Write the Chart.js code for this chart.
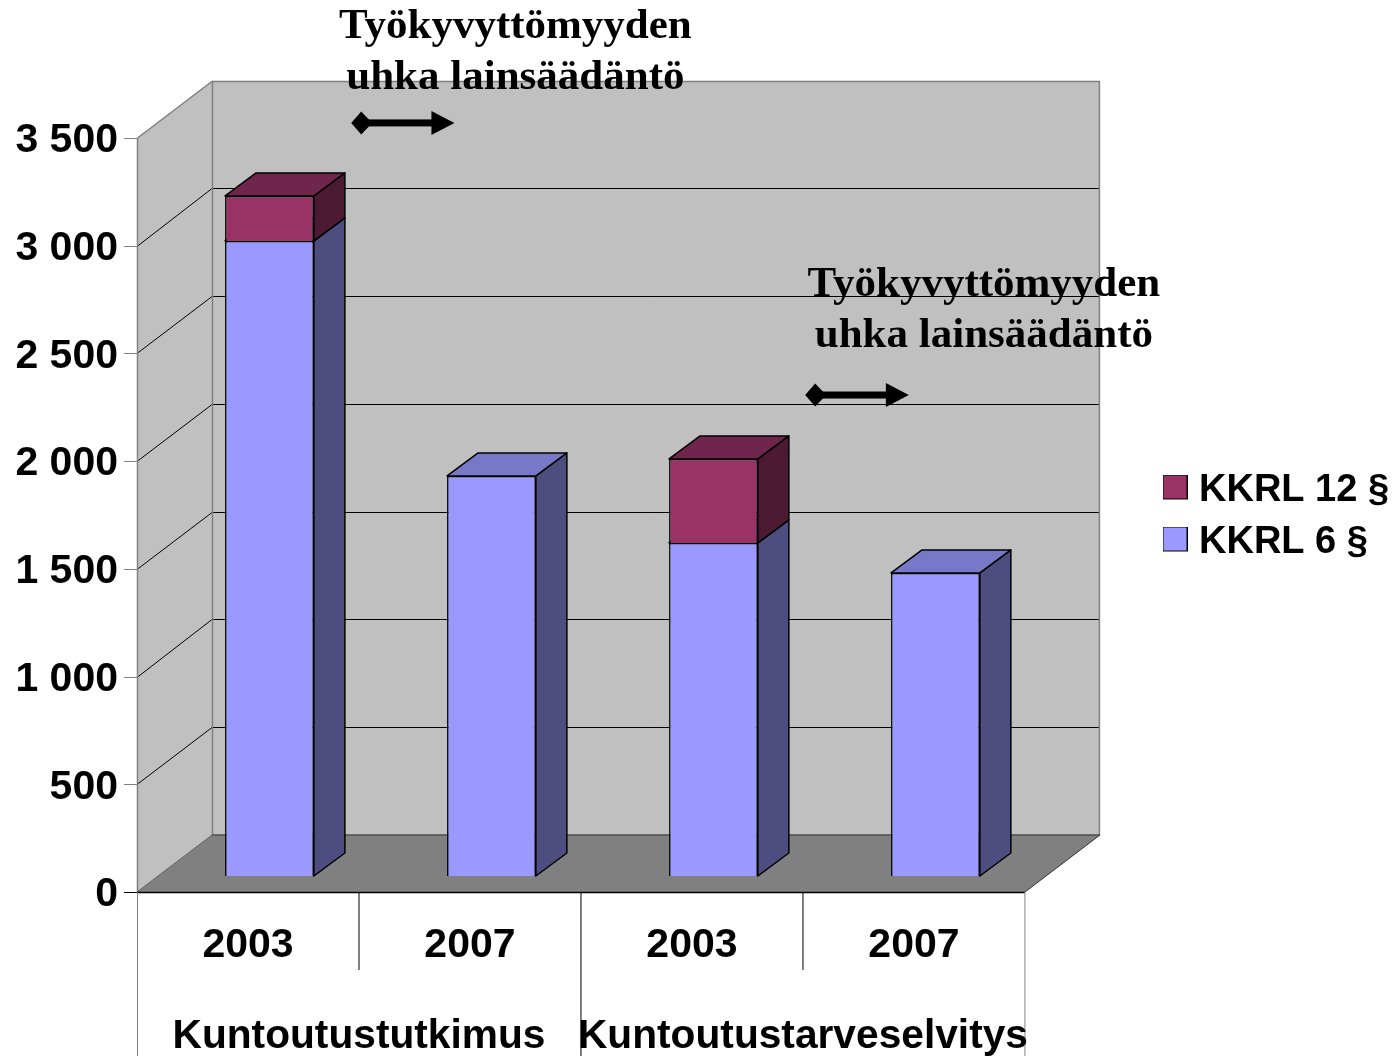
<!DOCTYPE html>
<html lang="fi">
<head>
<meta charset="utf-8">
<title>KKRL</title>
<script src="https://cdn.jsdelivr.net/npm/chart.js@4/dist/chart.umd.min.js"></script>
<style>html,body{margin:0;padding:0;background:#fff}canvas{display:block}</style>
</head>
<body>
<canvas id="c" width="1393" height="1056"></canvas>
<script>
const categories = ['2003', '2007', '2003', '2007'];
const groups = ['Kuntoutustutkimus', 'Kuntoutustarveselvitys'];
const kkrl6 = [2948, 1857, 1546, 1407];
const kkrl12 = [209, null, 390, null];
const seriesNames = ['KKRL 6 §', 'KKRL 12 §'];
const noteLines = ['Työkyvyttömyyden', 'uhka lainsäädäntö'];
// note positions, in axis units: category position and value
const noteX = [1.2045, 3.315];
const noteY1 = [4015, 2818];
const noteY2 = [3779, 2581];
const arrowFrom = [0.465, 2.510];
const arrowTo = [0.930, 2.977];
const arrowY = [3570, 2307];

const WALL = {dx: 75, dy: -57};
const BAR_OFFSET = {dx: 21.5, dy: -16};
const BAR_DEPTH = {dx: 31, dy: -23};
const colors = [
  {front: '#9999FF', side: '#4D4D80', top: '#7878C8'},
  {front: '#993366', side: '#4D1A33', top: '#70264C'}
];
const SANS = '"Liberation Sans", Arial, sans-serif';
const SERIF = '"Liberation Serif", "Times New Roman", serif';

function poly(ctx, pts, fill, stroke, lw) {
  ctx.beginPath();
  pts.forEach((p, i) => i ? ctx.lineTo(p[0], p[1]) : ctx.moveTo(p[0], p[1]));
  ctx.closePath();
  if (fill) { ctx.fillStyle = fill; ctx.fill(); }
  if (stroke) { ctx.strokeStyle = stroke; ctx.lineWidth = lw || 1; ctx.stroke(); }
}
function seg(ctx, x1, y1, x2, y2, color, lw) {
  ctx.beginPath(); ctx.moveTo(x1, y1); ctx.lineTo(x2, y2);
  ctx.strokeStyle = color; ctx.lineWidth = lw || 1; ctx.stroke();
}
function legendSwatch(color) {
  const cv = document.createElement('canvas');
  cv.width = 25; cv.height = 33;
  const g = cv.getContext('2d');
  g.fillStyle = color; g.fillRect(0, 0, 25, 25);
  g.strokeStyle = '#000'; g.lineWidth = 1; g.strokeRect(0.5, 0.5, 24, 24);
  return cv;
}

const box3d = {
  id: 'box3d',
  afterLayout(chart) {
    const l = chart.legend;
    const w = l.width, h = l.height;
    l.left = 1156; l.right = l.left + w;
    l.top -= 80; l.bottom = l.top + h;
  },
  beforeDraw(chart) {
    const {ctx, scales: {x, y}} = chart;
    const L = x.left, R = x.right, T = y.top, B = y.bottom;
    const d = WALL;
    ctx.save();
    // walls
    poly(ctx, [[L, T], [L + d.dx, T + d.dy], [L + d.dx, B + d.dy], [L, B]], '#C0C0C0');
    poly(ctx, [[L + d.dx, T + d.dy], [R + d.dx, T + d.dy], [R + d.dx, B + d.dy], [L + d.dx, B + d.dy]], '#C0C0C0');
    // gridlines on both walls
    y.ticks.forEach(t => {
      const raw = y.getPixelForValue(t.value);
      const py = Math.round(raw) + 0.5;
      const back = Math.round(raw + d.dy - 0.3) + 0.5;
      if (t.value > 0 && t.value < 3500) {
        seg(ctx, L, py, L + d.dx, back, '#000', 1);
        seg(ctx, L + d.dx, back, R + d.dx, back, '#000', 1);
      }
      seg(ctx, L - 13, py, L, py, t.value === 0 ? '#000' : '#808080', 1);
    });
    // floor
    poly(ctx, [[L, B], [L + d.dx, B + d.dy], [R + d.dx, B + d.dy], [R, B]], '#808080');
    // wall outlines
    const gr = '#808080';
    seg(ctx, L + .5, T, L + d.dx + .5, T + d.dy, gr, 1.5);
    seg(ctx, L + d.dx, T + d.dy + .5, R + d.dx, T + d.dy + .5, gr, 1.5);
    seg(ctx, R + d.dx - .5, T + d.dy, R + d.dx - .5, B + d.dy, gr, 1.5);
    seg(ctx, L + d.dx + .5, T + d.dy, L + d.dx + .5, B + d.dy, gr, 1.5);
    seg(ctx, L + .5, T, L + .5, B, gr, 1.5);
    seg(ctx, L + d.dx, B + d.dy, R + d.dx, B + d.dy, '#4d4d4d', 1.5);
    seg(ctx, L, B, L + d.dx, B + d.dy, '#606060', 1);
    seg(ctx, R, B, R + d.dx, B + d.dy, '#303030', 1);
    // category axis frame
    seg(ctx, L, B + .5, R, B + .5, '#000', 1.5);
    const w = x.width;
    seg(ctx, L + w / 4, B, L + w / 4, 970, '#000', 1);
    seg(ctx, L + 3 * w / 4, B, L + 3 * w / 4, 970, '#000', 1);
    seg(ctx, L + .5, B, L + .5, chart.height, gr, 1);
    seg(ctx, L + w / 2, B, L + w / 2, chart.height, '#000', 1);
    seg(ctx, R, B, R, chart.height, gr, 1);
    ctx.restore();
  },
  beforeDatasetsDraw(chart) {
    const {ctx} = chart;
    ctx.save();
    ctx.translate(BAR_OFFSET.dx, BAR_OFFSET.dy);
    ctx.lineJoin = 'round';
    chart.data.datasets.forEach((ds, di) => {
      chart.getDatasetMeta(di).data.forEach((el, i) => {
        if (ds.data[i] == null) return;
        const p = el.getProps(['x', 'y', 'base', 'width'], true);
        const x1 = p.x - p.width / 2, x2 = p.x + p.width / 2;
        const dx = BAR_DEPTH.dx, dy = BAR_DEPTH.dy;
        poly(ctx, [[x2, p.y], [x2 + dx, p.y + dy], [x2 + dx, p.base + dy], [x2, p.base]], colors[di].side, '#000', 1.5);
        poly(ctx, [[x1, p.y], [x1 + dx, p.y + dy], [x2 + dx, p.y + dy], [x2, p.y]], colors[di].top, '#000', 1.5);
      });
    });
    ctx.restore();
  },
  beforeDatasetDraw(chart) {
    chart.ctx.save();
    chart.ctx.translate(BAR_OFFSET.dx, BAR_OFFSET.dy);
  },
  afterDatasetDraw(chart) {
    chart.ctx.restore();
  },
  afterDraw(chart) {
    const {ctx, scales: {x, y}} = chart;
    ctx.save();
    ctx.fillStyle = '#000';
    ctx.font = 'bold 43px ' + SERIF;
    ctx.textAlign = 'center';
    ctx.textBaseline = 'middle';
    noteX.forEach((nx, i) => {
      const px = x.getPixelForValue(nx);
      ctx.fillText(noteLines[0], px, y.getPixelForValue(noteY1[i]));
      ctx.fillText(noteLines[1], px, y.getPixelForValue(noteY2[i]));
      const a = x.getPixelForValue(arrowFrom[i]), b = x.getPixelForValue(arrowTo[i]);
      const py = y.getPixelForValue(arrowY[i]);
      ctx.fillRect(a + 15, py - 3.5, b - a - 30, 7);
      poly(ctx, [[a, py], [a + 10, py - 11.5], [a + 21, py], [a + 10, py + 11.5]], '#000');
      poly(ctx, [[b, py], [b - 23, py - 12], [b - 23, py + 12]], '#000');
    });
    ctx.restore();
  }
};

new Chart(document.getElementById('c'), {
  type: 'bar',
  data: {
    labels: categories,
    datasets: [
      {label: seriesNames[0], data: kkrl6, backgroundColor: colors[0].front, borderColor: '#000', borderWidth: 1.5, clip: false, stack: 's'},
      {label: seriesNames[1], data: kkrl12, backgroundColor: colors[1].front, borderColor: '#000', borderWidth: 1.5, clip: false, stack: 's'}
    ]
  },
  options: {
    responsive: false,
    animation: false,
    devicePixelRatio: 1,
    layout: {padding: {left: 0, top: 138, right: 125, bottom: 0}},
    datasets: {bar: {barPercentage: 0.4, categoryPercentage: 1}},
    plugins: {
      title: {display: false},
      tooltip: {enabled: false},
      legend: {
        position: 'right',
        reverse: false,
        labels: {
          color: '#000',
          font: {family: SANS, size: 38, weight: 'bold'},
          padding: 14,
          usePointStyle: true,
          pointStyleWidth: 10,
          generateLabels(chart) {
            return Chart.defaults.plugins.legend.labels.generateLabels(chart)
              .map(it => Object.assign(it, {pointStyle: legendSwatch(colors[it.datasetIndex].front)}))
              .reverse();
          }
        }
      }
    },
    scales: {
      x: {
        type: 'category', position: 'bottom', weight: 0, stacked: true,
        grid: {display: false, drawTicks: false},
        border: {display: false},
        ticks: {color: '#000', font: {family: SANS, size: 41, weight: 'bold'}, padding: 29, autoSkip: false, maxRotation: 0},
        afterFit(s) { s.height = 90; }
      },
      x2: {
        type: 'category', position: 'bottom', weight: 1, labels: groups,
        grid: {display: false, drawTicks: false},
        border: {display: false},
        ticks: {color: '#000', font: {family: SANS, size: 40.7, weight: 'bold'}, padding: 30, autoSkip: false, maxRotation: 0},
        afterFit(s) { s.height = 74; }
      },
      y: {
        stacked: true, min: 0, max: 3500,
        grid: {display: false, drawTicks: false},
        border: {display: false},
        ticks: {
          stepSize: 500, color: '#000', padding: 19,
          font: {family: SANS, size: 41, weight: 'bold'},
          callback: v => String(v).replace(/\B(?=(\d{3})+$)/g, ' ')
        },
        afterFit(s) {
          s.width = 137;
          if (!s._shifted) {
            const orig = s.drawLabels;
            s.drawLabels = function (area) {
              this.ctx.save();
              this.ctx.translate(0, 3);
              orig.call(this, area);
              this.ctx.restore();
            };
            s._shifted = true;
          }
        }
      }
    }
  },
  plugins: [box3d]
});
</script>
</body>
</html>
